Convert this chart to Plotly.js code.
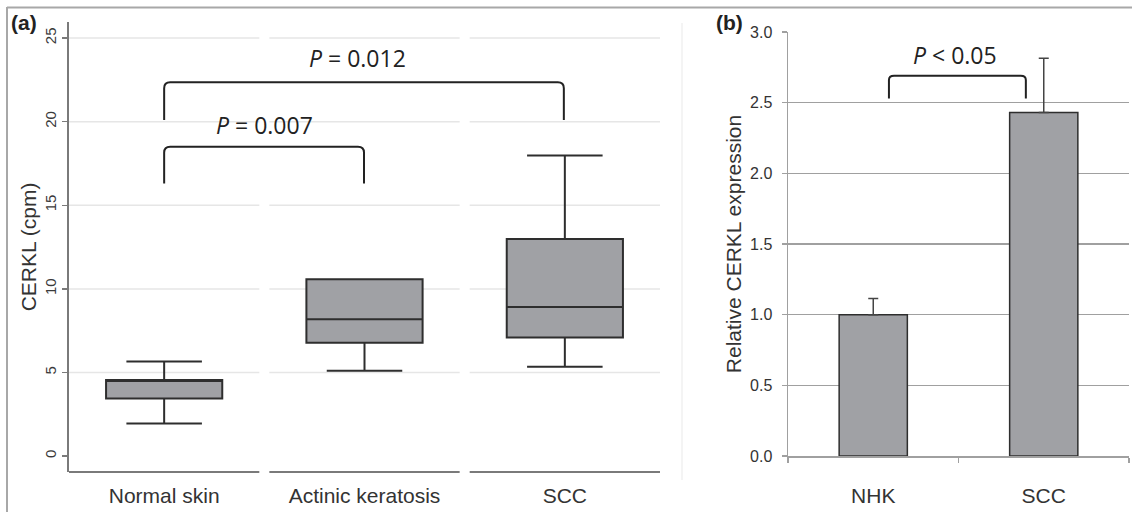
<!DOCTYPE html>
<html>
<head>
<meta charset="utf-8">
<script src="https://cdn.plot.ly/plotly-3.0.1.min.js"></script>
<style>html,body{margin:0;padding:0;background:#fff;}#chart{width:1132px;height:512px;}</style>
</head>
<body>
<div id="chart"></div>
<script>
// Panel (a): CERKL counts per million (box summary values)
var boxCategories = ["Normal skin", "Actinic keratosis", "SCC"];
var boxLowerFence = [1.95, 5.1, 5.34];
var boxQ1 = [3.45, 6.78, 7.1];
var boxMedian = [4.5, 8.18, 8.91];
var boxQ3 = [4.55, 10.57, 12.98];
var boxUpperFence = [5.66, 10.57, 17.98];
var leftTicks = [0, 5, 10, 15, 20, 25];

// Panel (b): relative CERKL expression
var barCategories = ["NHK", "SCC"];
var barValues = [1.0, 2.43];
var barErrors = [0.115, 0.385];
var rightTicks = [0, 0.5, 1.0, 1.5, 2.0, 2.5, 3.0];

// Significance brackets
var pLabelsA = ["<i>P</i> = 0.007", "<i>P</i> = 0.012"];
var pLabelB = "<i>P</i> &lt; 0.05";

var boxFill = "#a0a1a5";
var edge = "#2e2e2e";
var font = "Liberation Sans, Arial, sans-serif";
var pfont = "Open Sans, Noto Sans, sans-serif";

var traces = [
  {
    type: "box",
    x: boxCategories,
    q1: boxQ1, median: boxMedian, q3: boxQ3,
    lowerfence: boxLowerFence, upperfence: boxUpperFence,
    fillcolor: boxFill,
    line: {color: edge, width: 2},
    width: 0.58,
    whiskerwidth: 0.65,
    boxpoints: false,
    hoverinfo: "skip",
    xaxis: "x", yaxis: "y",
    showlegend: false
  },
  {
    type: "bar",
    x: barCategories,
    y: barValues,
    width: 0.4,
    marker: {color: boxFill, line: {color: edge, width: 1.5}},
    error_y: {type: "data", array: barErrors, symmetric: false, arrayminus: [0, 0], visible: true, color: "#444", thickness: 1.5, width: 5},
    xaxis: "x2", yaxis: "y2",
    showlegend: false
  }
];

var shapes = [];
// segmented light gridlines + axis line for panel (a)
var gridA = [5, 10, 15, 20, 25];
for (var c = 0; c < boxCategories.length; c++) {
  for (var g = 0; g < gridA.length; g++) {
    shapes.push({type: "line", xref: "x", yref: "y", x0: c - 0.475, x1: c + 0.475, y0: gridA[g], y1: gridA[g],
      line: {color: "#e6e6e6", width: 1.5}, layer: "below"});
  }
  shapes.push({type: "line", xref: "x", yref: "y domain", x0: c - 0.475, x1: c + 0.475, y0: 0, y1: 0,
    line: {color: "#7a7a7a", width: 2}, layer: "above"});
}

function bracket(xr, yr, xa, yb, yt, rx, ry) {
  return {type: "path", xref: xr, yref: yr,
    path: "M" + xa[0] + "," + yb + " L" + xa[0] + "," + (yt - ry) + " Q" + xa[0] + "," + yt + " " + (xa[0] + rx) + "," + yt +
          " L" + (xa[1] - rx) + "," + yt + " Q" + xa[1] + "," + yt + " " + xa[1] + "," + (yt - ry) + " L" + xa[1] + "," + yb,
    line: {color: "#222", width: 2}};
}
shapes.push(bracket("x", "y", [0, 0.9975], 16.3, 18.5, 0.03, 0.35));
shapes.push(bracket("x", "y", [0, 1.995], 20.1, 22.35, 0.03, 0.35));
shapes.push(bracket("x2", "y2", [0.092, 0.895], 2.53, 2.69, 0.03, 0.03));

// figure frame
shapes.push({type: "line", xref: "paper", yref: "paper", x0: 7 / 1132, x1: 1, y0: 1 - 7.5 / 512, y1: 1 - 7.5 / 512, line: {color: "#a8a8a8", width: 2}});
shapes.push({type: "line", xref: "paper", yref: "paper", x0: 7 / 1132, x1: 7 / 1132, y0: 0, y1: 1 - 7 / 512, line: {color: "#a8a8a8", width: 2}});
shapes.push({type: "line", xref: "paper", yref: "paper", x0: 682 / 1132, x1: 682 / 1132, y0: 1 - 480 / 512, y1: 1 - 23 / 512, line: {color: "#f0f0f0", width: 1.5}});

var annotations = [
  {text: pLabelsA[0], xref: "x", yref: "y", x: 0.5, y: 19.8, xanchor: "center", showarrow: false, font: {family: pfont, size: 23, color: "#222"}},
  {text: pLabelsA[1], xref: "x", yref: "y", x: 0.965, y: 23.8, xanchor: "center", showarrow: false, font: {family: pfont, size: 23, color: "#222"}},
  {text: pLabelB, xref: "x2", yref: "y2", x: 0.48, y: 2.84, xanchor: "center", showarrow: false, font: {family: pfont, size: 23, color: "#222"}},
  {text: "<b>(a)</b>", xref: "paper", yref: "paper", x: 24 / 1132, y: 1 - 22 / 512, xanchor: "center", yanchor: "middle", showarrow: false, font: {family: font, size: 21, color: "#222"}},
  {text: "<b>(b)</b>", xref: "paper", yref: "paper", x: 729 / 1132, y: 1 - 22 / 512, xanchor: "center", yanchor: "middle", showarrow: false, font: {family: font, size: 21, color: "#222"}}
];

var layout = {
  width: 1132, height: 512,
  margin: {l: 0, r: 0, t: 0, b: 0},
  paper_bgcolor: "#fff", plot_bgcolor: "rgba(0,0,0,0)",
  showlegend: false,
  font: {family: font, color: "#333"},
  xaxis: {
    domain: [69 / 1132, 660 / 1132], anchor: "y",
    type: "category", range: [-0.475, 2.475],
    showgrid: false, zeroline: false, showline: false, ticks: "",
    tickfont: {size: 21, color: "#333", family: font},
    ticklabelstandoff: 9, fixedrange: true
  },
  yaxis: {
    domain: [1 - 472 / 512, 1 - 22 / 512], anchor: "x",
    range: [-0.95, 25.96],
    tickvals: leftTicks, ticktext: leftTicks.map(String),
    tickangle: -90,
    showgrid: false, zeroline: false,
    showline: true, linecolor: "#7a7a7a", linewidth: 2,
    ticks: "outside", ticklen: 5, tickwidth: 1.5, tickcolor: "#7a7a7a",
    tickfont: {size: 15, color: "#3a3a3a", family: font},
    ticklabelstandoff: 0,
    title: {text: "CERKL (cpm)", font: {size: 21, color: "#333", family: font}, standoff: 0},
    fixedrange: true
  },
  xaxis2: {
    domain: [788 / 1132, 1129 / 1132], anchor: "y2",
    type: "category", range: [-0.5, 1.5],
    showgrid: false, zeroline: false,
    showline: true, linecolor: "#a0a0a0", linewidth: 1.5,
    ticks: "outside", tickson: "boundaries", ticklen: 5, tickwidth: 1.5, tickcolor: "#a0a0a0",
    tickfont: {size: 21, color: "#333", family: font},
    ticklabelstandoff: 20, fixedrange: true
  },
  yaxis2: {
    domain: [1 - 456 / 512, 1 - 32 / 512], anchor: "x2",
    range: [0, 3],
    tickvals: rightTicks, ticktext: rightTicks.map(function (v) { return v.toFixed(1); }),
    showgrid: true, gridcolor: "#a0a0a0", gridwidth: 1.5,
    zeroline: false,
    showline: true, linecolor: "#a0a0a0", linewidth: 1.5,
    ticks: "outside", ticklen: 5, tickwidth: 1.5, tickcolor: "#a0a0a0",
    tickfont: {size: 16, color: "#333", family: font},
    ticklabelstandoff: 6,
    title: {text: "Relative CERKL expression", font: {size: 21, color: "#333", family: font}, standoff: 2},
    fixedrange: true
  },
  shapes: shapes,
  annotations: annotations
};

Plotly.newPlot("chart", traces, layout, {displayModeBar: false, staticPlot: true});
</script>
</body>
</html>
